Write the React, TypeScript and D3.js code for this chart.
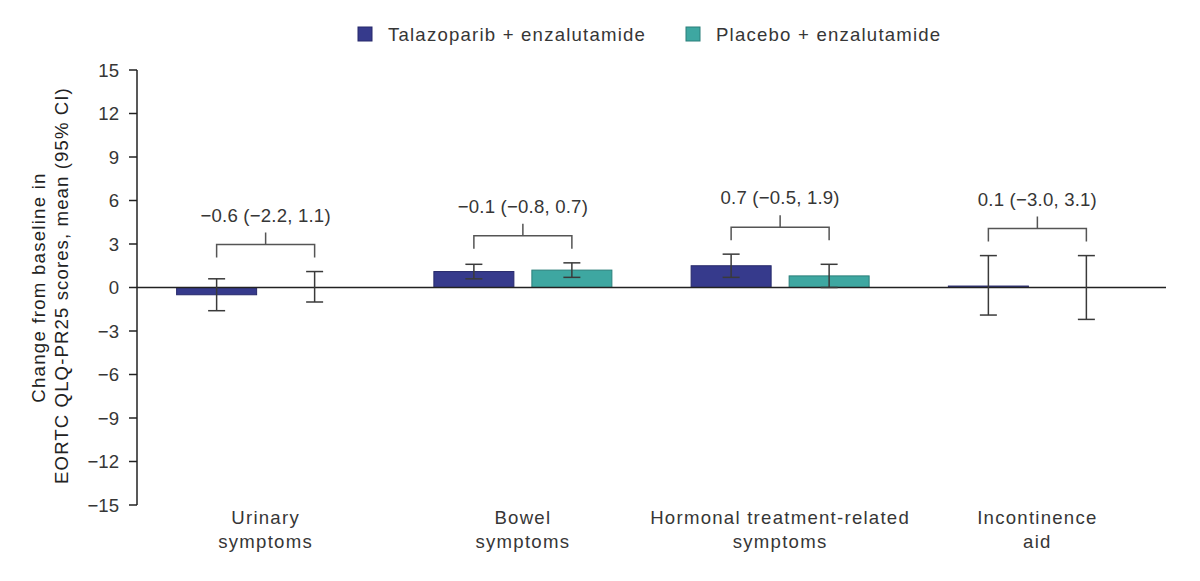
import React from "react";
import * as d3 from "d3";

// Domains and data
const categories = ["Urinary symptoms", "Bowel symptoms", "Hormonal treatment-related symptoms", "Incontinence aid"];
const categoryLines = [["Urinary", "symptoms"], ["Bowel", "symptoms"], ["Hormonal treatment-related", "symptoms"], ["Incontinence", "aid"]];
const seriesNames = ["Talazoparib + enzalutamide", "Placebo + enzalutamide"];
const seriesColors = ["#363a8c", "#3ea7a1"];
const seriesStroke = ["#26286a", "#2a7f7a"];

// Mean change from baseline with 95% CI per series
const talMean = [-0.5, 1.1, 1.5, 0.1];
const talLow = [-1.6, 0.6, 0.7, -1.9];
const talHigh = [0.6, 1.6, 2.3, 2.2];
const plaMean = [0.0, 1.2, 0.8, 0.0];
const plaLow = [-1.0, 0.7, 0.0, -2.2];
const plaHigh = [1.1, 1.7, 1.6, 2.2];

// Between-arm difference labels
const diffLabels = ["\u22120.6 (\u22122.2, 1.1)", "\u22120.1 (\u22120.8, 0.7)", "0.7 (\u22120.5, 1.9)", "0.1 (\u22123.0, 3.1)"];

const yTicks = [15, 12, 9, 6, 3, 0, -3, -6, -9, -12, -15];

const W = 1200;
const H = 581;
const FONT = "'Liberation Sans', Arial, sans-serif";
const FS = 18.6;
const TEXT = "#363636";

export default function App() {
  const y = d3.scaleLinear().domain([-15, 15]).range([505, 70]);
  const x0 = d3.scaleBand<string>().domain(categories).range([137, 1166]).padding(0);
  const x1 = d3.scaleBand<number>().domain([0, 1]).range([-89, 89]).paddingInner(18 / 98).paddingOuter(0);

  const means = [talMean, plaMean];
  const lows = [talLow, plaLow];
  const highs = [talHigh, plaHigh];
  const fmt = (v: number) => (v < 0 ? "\u2212" + Math.abs(v) : String(v));
  const legendX = [358, 686];

  return (
    <svg width={W} height={H} style={{ display: "block", position: "absolute", left: 0, top: 0 }} fontFamily={FONT}>
      <rect width={W} height={H} fill="#fff" />

      {/* Legend */}
      <g>
        {seriesNames.map((name, i) => (
          <g key={name}>
            <rect x={legendX[i]} y={27} width={14} height={14} fill={seriesColors[i]} stroke={seriesStroke[i]} strokeWidth={1} />
            <text x={legendX[i] + 30} y={41} fontSize={FS} letterSpacing={1.2} fill={TEXT}>{name}</text>
          </g>
        ))}
      </g>

      {/* Y axis */}
      <g>
        <line x1={137} x2={137} y1={y(15)} y2={y(-15)} stroke="#222" strokeWidth={1.5} />
        {yTicks.map((t) => (
          <g key={t}>
            <line x1={129} x2={137} y1={y(t)} y2={y(t)} stroke="#222" strokeWidth={1.5} />
            <text x={119} y={y(t)} dy="0.35em" textAnchor="end" fontSize={FS} fill={TEXT}>{fmt(t)}</text>
          </g>
        ))}
        <text transform={`translate(45, ${y(0)}) rotate(-90)`} textAnchor="middle" fontSize={FS} letterSpacing={1.25} fill="#222">
          Change from baseline in
        </text>
        <text transform={`translate(68, ${y(0) - 2}) rotate(-90)`} textAnchor="middle" fontSize={FS} letterSpacing={1.1} fill="#222">
          EORTC QLQ-PR25 scores, mean (95% CI)
        </text>
      </g>

      {/* Bars */}
      {categories.map((c, ci) => {
        const cx = (x0(c) as number) + x0.bandwidth() / 2;
        return (
          <g key={c}>
            {[0, 1].map((s) => {
              const v = means[s][ci];
              const bx = cx + (x1(s) as number);
              const top = Math.min(y(v), y(0));
              const h = Math.abs(y(v) - y(0));
              return h > 0 ? (
                <rect key={s} x={bx} y={top} width={x1.bandwidth()} height={h}
                  fill={seriesColors[s]} stroke={seriesStroke[s]} strokeWidth={1} />
              ) : null;
            })}
          </g>
        );
      })}

      {/* Zero line */}
      <line x1={137} x2={1166} y1={y(0)} y2={y(0)} stroke="#222" strokeWidth={1.5} />

      {/* Error bars */}
      {categories.map((c, ci) => {
        const cx = (x0(c) as number) + x0.bandwidth() / 2;
        return (
          <g key={c} stroke="#3a3a3a" strokeWidth={1.5}>
            {[0, 1].map((s) => {
              const ex = cx + (x1(s) as number) + x1.bandwidth() / 2;
              const lo = y(lows[s][ci]);
              const hi = y(highs[s][ci]);
              return (
                <g key={s}>
                  <line x1={ex} x2={ex} y1={hi} y2={lo} />
                  <line x1={ex - 8.5} x2={ex + 8.5} y1={hi} y2={hi} />
                  <line x1={ex - 8.5} x2={ex + 8.5} y1={lo} y2={lo} />
                </g>
              );
            })}
          </g>
        );
      })}

      {/* Difference brackets */}
      {categories.map((c, ci) => {
        const cx = (x0(c) as number) + x0.bandwidth() / 2;
        const e0 = cx + (x1(0) as number) + x1.bandwidth() / 2;
        const e1 = cx + (x1(1) as number) + x1.bandwidth() / 2;
        const topMost = Math.min(y(talHigh[ci]), y(plaHigh[ci]));
        const armBottom = topMost - 14;
        const barY = armBottom - 13;
        const stemTop = barY - 12;
        return (
          <g key={c}>
            <path d={`M${e0},${armBottom}V${barY}H${e1}V${armBottom}M${cx},${barY}V${stemTop}`}
              fill="none" stroke="#555" strokeWidth={1.5} />
            <text x={cx} y={stemTop - 11} textAnchor="middle" fontSize={FS} letterSpacing={0.2} fill={TEXT}>{diffLabels[ci]}</text>
          </g>
        );
      })}

      {/* Category labels */}
      {categories.map((c, ci) => {
        const cx = (x0(c) as number) + x0.bandwidth() / 2;
        return (
          <text key={c} x={cx} y={524} textAnchor="middle" fontSize={FS} letterSpacing={1.25} fill={TEXT}>
            {categoryLines[ci].map((ln, li) => (
              <tspan key={li} x={cx} dy={li === 0 ? 0 : 24}>{ln}</tspan>
            ))}
          </text>
        );
      })}
    </svg>
  );
}
